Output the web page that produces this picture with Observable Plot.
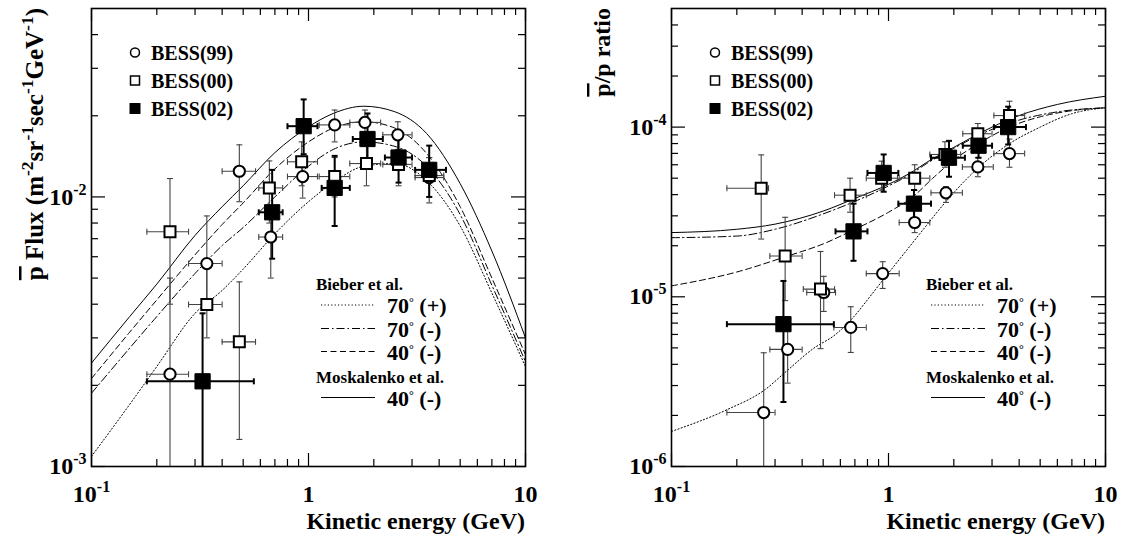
<!DOCTYPE html>
<html><head><meta charset="utf-8">
<script src="https://cdn.jsdelivr.net/npm/d3@7"></script>
<script src="https://cdn.jsdelivr.net/npm/@observablehq/plot@0.6"></script>
<style>
body{margin:0;background:#fff;}
#wrap{position:relative;width:1125px;height:535px;overflow:hidden;background:#fff;}
#left{position:absolute;left:0;top:0;}
#right{position:absolute;left:560px;top:0;}
</style></head><body><div id="wrap"><div id="left"></div><div id="right"></div></div>
<script>
// ---------- tick values ----------
const X_MAJOR = [0.1, 1, 10];
const X_MINOR = [0.2,0.3,0.4,0.5,0.6,0.7,0.8,0.9,2,3,4,5,6,7,8,9];
const FLUX_Y_MAJOR = [1e-3, 1e-2];
const FLUX_Y_MINOR = [2e-3,3e-3,4e-3,5e-3,6e-3,7e-3,8e-3,9e-3,2e-2,3e-2,4e-2];
const RATIO_Y_MAJOR = [1e-6, 1e-5, 1e-4];
const RATIO_Y_MINOR = [2e-6,3e-6,4e-6,5e-6,6e-6,7e-6,8e-6,9e-6,2e-5,3e-5,4e-5,5e-5,6e-5,7e-5,8e-5,9e-5,2e-4,3e-4,4e-4];

// ---------- data rows: [E, value, low, high, Elow, Ehigh] ----------
const flux99 = [
 [0.23, 2.2e-3, 5e-4, 5.0e-3, 0.18, 0.28],
 [0.34, 5.66e-3, 3.9e-3, 8.5e-3, 0.28, 0.40],
 [0.48, 1.245e-2, 9.6e-3, 1.56e-2, 0.40, 0.57],
 [0.67, 7.1e-3, 5.0e-3, 9.0e-3, 0.59, 0.76],
 [0.94, 1.19e-2, 9.9e-3, 1.4e-2, 0.80, 1.10],
 [1.32, 1.85e-2, 1.6e-2, 2.1e-2, 1.12, 1.55],
 [1.82, 1.89e-2, 1.65e-2, 2.1e-2, 1.55, 2.15],
 [2.58, 1.70e-2, 1.5e-2, 1.9e-2, 2.2, 3.0],
 [3.6, 1.18e-2, 9.5e-3, 1.4e-2, 3.1, 4.2]
];
const flux00 = [
 [0.23, 7.43e-3, 4.0e-3, 1.17e-2, 0.18, 0.28],
 [0.34, 3.99e-3, 3.0e-3, 5.5e-3, 0.28, 0.40],
 [0.48, 2.9e-3, 1.26e-3, 4.84e-3, 0.40, 0.57],
 [0.66, 1.08e-2, 8.0e-3, 1.36e-2, 0.59, 0.76],
 [0.93, 1.35e-2, 1.1e-2, 1.6e-2, 0.80, 1.10],
 [1.32, 1.19e-2, 1.0e-2, 1.4e-2, 1.12, 1.55],
 [1.85, 1.33e-2, 1.1e-2, 1.6e-2, 1.55, 2.15],
 [2.6, 1.32e-2, 1.1e-2, 1.5e-2, 2.2, 3.0],
 [3.6, 1.2e-2, 1.0e-2, 1.4e-2, 3.1, 4.2]
];
const flux02 = [
 [0.325, 2.07e-3, 5e-4, 3.7e-3, 0.18, 0.56],
 [0.68, 8.77e-3, 5.9e-3, 1.26e-2, 0.59, 0.76],
 [0.95, 1.83e-2, 1.44e-2, 2.3e-2, 0.80, 1.10],
 [1.32, 1.08e-2, 7.8e-3, 1.42e-2, 1.15, 1.55],
 [1.87, 1.64e-2, 1.35e-2, 2.04e-2, 1.6, 2.2],
 [2.6, 1.40e-2, 1.13e-2, 1.7e-2, 2.25, 3.0],
 [3.6, 1.26e-2, 1.0e-2, 1.55e-2, 3.1, 4.3]
];
const ratio99 = [
 [0.266, 2.08e-6, 5e-7, 4.68e-6, 0.18, 0.30],
 [0.343, 4.9e-6, 3.1e-6, 7.3e-6, 0.284, 0.40],
 [0.503, 1.06e-5, 8.2e-6, 1.32e-5, 0.42, 0.57],
 [0.67, 6.6e-6, 4.7e-6, 8.74e-6, 0.56, 0.79],
 [0.94, 1.37e-5, 1.12e-5, 1.61e-5, 0.79, 1.12],
 [1.32, 2.74e-5, 2.39e-5, 3.27e-5, 1.12, 1.55],
 [1.84, 4.1e-5, 3.6e-5, 4.46e-5, 1.57, 2.19],
 [2.58, 5.83e-5, 5.1e-5, 6.6e-5, 2.19, 3.04],
 [3.61, 6.98e-5, 5.8e-5, 8.5e-5, 3.06, 4.24]
];
const ratio00 = [
 [0.259, 4.36e-5, 2.19e-5, 6.86e-5, 0.18, 0.28],
 [0.334, 1.74e-5, 9.5e-6, 2.94e-5, 0.284, 0.40],
 [0.486, 1.11e-5, 4.95e-6, 1.85e-5, 0.405, 0.564],
 [0.665, 3.97e-5, 3.15e-5, 5.0e-5, 0.564, 0.79],
 [0.93, 5.0e-5, 4.25e-5, 6.3e-5, 0.79, 1.10],
 [1.32, 5.0e-5, 4.25e-5, 6.0e-5, 1.12, 1.55],
 [1.82, 6.9e-5, 5.8e-5, 8.2e-5, 1.55, 2.15],
 [2.58, 9.14e-5, 7.9e-5, 1.05e-4, 2.2, 3.0],
 [3.61, 1.17e-4, 9.6e-5, 1.42e-4, 3.06, 4.24]
];
const ratio02 = [
 [0.328, 6.9e-6, 2.4e-6, 1.24e-5, 0.18, 0.56],
 [0.69, 2.43e-5, 1.63e-5, 3.54e-5, 0.57, 0.80],
 [0.95, 5.37e-5, 4.16e-5, 6.9e-5, 0.80, 1.11],
 [1.31, 3.54e-5, 2.87e-5, 4.26e-5, 1.11, 1.57],
 [1.9, 6.6e-5, 5.1e-5, 8.3e-5, 1.57, 2.25],
 [2.6, 7.77e-5, 6.6e-5, 9.35e-5, 2.2, 3.0],
 [3.56, 1.0e-4, 7.9e-5, 1.32e-4, 3.06, 4.3]
];

// ---------- model curves: [E, value] ----------
const fluxMosk40m = [[0.1,2.42e-3],[0.15,3.6e-3],[0.2,4.75e-3],[0.3,7.2e-3],[0.4,9.2e-3],[0.5,1.1e-2],[0.7,1.46e-2],[1.0,1.82e-2],[1.3,2.04e-2],[1.8,2.17e-2],[2.5,2.07e-2],[3.5,1.72e-2],[5,1.12e-2],[7,6.3e-3],[10,3.0e-3]];
const fluxBieber40m = [[0.1,2.12e-3],[0.15,3.15e-3],[0.2,4.15e-3],[0.3,6.1e-3],[0.4,7.9e-3],[0.5,9.5e-3],[0.7,1.27e-2],[1.0,1.6e-2],[1.3,1.8e-2],[1.8,1.9e-2],[2.5,1.8e-2],[3.5,1.45e-2],[5,9.2e-3],[7,5.0e-3],[10,2.6e-3]];
const fluxBieber70m = [[0.1,1.87e-3],[0.15,2.75e-3],[0.2,3.6e-3],[0.3,5.2e-3],[0.4,6.6e-3],[0.5,7.7e-3],[0.7,1.0e-2],[1.0,1.3e-2],[1.3,1.5e-2],[1.8,1.6e-2],[2.5,1.54e-2],[3.5,1.3e-2],[5,8.6e-3],[7,4.7e-3],[10,2.45e-3]];
const fluxBieber70p = [[0.1,1.09e-3],[0.15,1.7e-3],[0.2,2.35e-3],[0.3,3.7e-3],[0.4,4.5e-3],[0.5,5.4e-3],[0.7,7.3e-3],[1.0,9.6e-3],[1.3,1.13e-2],[1.8,1.3e-2],[2.5,1.33e-2],[3.5,1.15e-2],[5,7.8e-3],[7,4.4e-3],[10,2.35e-3]];

const ratioMosk40m = [[0.1,2.39e-5],[0.2,2.5e-5],[0.3,2.68e-5],[0.5,3.2e-5],[0.7,3.8e-5],[1.0,4.6e-5],[1.3,5.5e-5],[1.5,6.2e-5],[2,7.6e-5],[3,1.0e-4],[4,1.17e-4],[6,1.36e-4],[10,1.52e-4]];
const ratioBieber70m = [[0.1,2.23e-5],[0.2,2.28e-5],[0.3,2.5e-5],[0.5,3.08e-5],[0.7,3.65e-5],[1.0,4.5e-5],[1.3,5.4e-5],[1.5,6.1e-5],[2,7.5e-5],[3,9.7e-5],[4,1.1e-4],[6,1.23e-4],[10,1.3e-4]];
const ratioBieber40m = [[0.1,1.16e-5],[0.2,1.4e-5],[0.334,1.72e-5],[0.5,2.05e-5],[0.7,2.5e-5],[1.0,3.15e-5],[1.3,3.9e-5],[1.6,5.0e-5],[2,6.4e-5],[2.6,8.0e-5],[3.6,1.0e-4],[5,1.15e-4],[7,1.25e-4],[10,1.3e-4]];
const ratioBieber70p = [[0.1,1.61e-6],[0.18,2.16e-6],[0.27,2.84e-6],[0.34,3.66e-6],[0.45,4.95e-6],[0.57,6.0e-6],[0.69,7.6e-6],[0.8,9.6e-6],[0.94,1.25e-5],[1.18,1.8e-5],[1.43,2.45e-5],[1.86,3.7e-5],[2.53,5.6e-5],[3.56,7.9e-5],[5,1.0e-4],[7,1.2e-4],[10,1.3e-4]];

const SERIES_NAMES = ["BESS(99)", "BESS(00)", "BESS(02)"];
const MODEL_GROUPS = ["Bieber et al.", "Moskalenko et al."];
const MODEL_NAMES = ["70", "(+)", "70", "(-)", "40", "(-)", "40", "(-)"];

// ---------- styles ----------
const FONT = "'Liberation Serif','Times New Roman',serif";
const DASH = {dot: "1.2,2.2", dashdot: "8,3,1.5,3", dash: "6,3.5", solid: null};
const hCap = {draw(ctx, size){const r=Math.sqrt(size/Math.PI); ctx.moveTo(-r,0); ctx.lineTo(r,0);}};
const vCap = {draw(ctx, size){const r=Math.sqrt(size/Math.PI); ctx.moveTo(0,-r); ctx.lineTo(0,r);}};

function fmt(d){
  if (Math.abs(d-1) < 1e-9) return "1";
  if (Math.abs(d-10) < 1e-9) return "10";
  return "10^" + Math.round(Math.log10(d));
}

function rich(parent, x, y, parts, size, opts={}) {
  const t = parent.append("text").attr("x", x).attr("y", y)
    .attr("font-size", size).attr("font-family", FONT).attr("font-weight", "bold")
    .attr("fill", "black").attr("text-anchor", opts.anchor || "start");
  if (opts.transform) t.attr("transform", opts.transform);
  let shift = 0;
  for (const p of parts) {
    const ts = t.append("tspan").text(p.t);
    if (p.sup) {
      const s = p.shift || size*0.42;
      ts.attr("dy", -s).attr("font-size", p.size || size*0.7);
      shift = s;
    } else if (shift) {
      ts.attr("dy", shift); shift = 0;
    }
    if (p.over) ts.attr("text-decoration", "overline");
  }
  return t;
}

function makePanel(cfg) {
  const W = cfg.width, H = 535, mL = cfg.mL, mR = cfg.mR, mT = 8, mB = 69;
  const fw = W - mL - mR, fh = H - mT - mB;
  const marks = [];
  for (const c of cfg.curves) {
    marks.push(Plot.line(c.data, {x: d => d[0], y: d => d[1], curve: "monotone-x", stroke: "black",
      strokeWidth: 1, strokeDasharray: c.dash, clip: true}));
  }
  for (const s of cfg.sets) {
    const st = {stroke: s.barColor, strokeWidth: s.barWidth, clip: true};
    marks.push(Plot.ruleX(s.data, {x: d => d[0], y1: d => d[2], y2: d => d[3], ...st}));
    marks.push(Plot.ruleY(s.data, {y: d => d[1], x1: d => d[4], x2: d => d[5], ...st}));
    marks.push(Plot.dot(s.data, {x: d => d[0], y: d => d[2], symbol: hCap, r: 3, fill: "none", ...st}));
    marks.push(Plot.dot(s.data, {x: d => d[0], y: d => d[3], symbol: hCap, r: 3, fill: "none", ...st}));
    marks.push(Plot.dot(s.data, {x: d => d[4], y: d => d[1], symbol: vCap, r: 3, fill: "none", ...st}));
    marks.push(Plot.dot(s.data, {x: d => d[5], y: d => d[1], symbol: vCap, r: 3, fill: "none", ...st}));
  }
  for (const s of cfg.sets) {
    marks.push(Plot.dot(s.data, {x: d => d[0], y: d => d[1], symbol: s.symbol, r: s.r,
      fill: s.fill, stroke: "black", strokeWidth: s.sw}));
  }
  const tk = {stroke: "black", strokeWidth: 1.2};
  marks.push(Plot.tickY(cfg.yMajor, {y: d => d, insetRight: fw - 14, ...tk}));
  marks.push(Plot.tickY(cfg.yMajor, {y: d => d, insetLeft: fw - 14, ...tk}));
  marks.push(Plot.tickY(cfg.yMinor, {y: d => d, insetRight: fw - 7, ...tk}));
  marks.push(Plot.tickY(cfg.yMinor, {y: d => d, insetLeft: fw - 7, ...tk}));
  marks.push(Plot.tickX(X_MAJOR, {x: d => d, insetTop: fh - 13, ...tk}));
  marks.push(Plot.tickX(X_MAJOR, {x: d => d, insetBottom: fh - 13, ...tk}));
  marks.push(Plot.tickX(X_MINOR, {x: d => d, insetTop: fh - 7, ...tk}));
  marks.push(Plot.tickX(X_MINOR, {x: d => d, insetBottom: fh - 7, ...tk}));
  marks.push(Plot.axisX(X_MAJOR, {anchor: "bottom", tickSize: 0, tickPadding: 18, tickFormat: fmt, label: null, fontSize: 24}));
  marks.push(Plot.axisY(cfg.yMajor, {anchor: "left", tickSize: 0, tickPadding: 5, tickFormat: fmt, label: null, fontSize: 24}));
  marks.push(Plot.frame({stroke: "black", strokeWidth: 1.6}));

  const svg = Plot.plot({
    width: W, height: H, marginLeft: mL, marginRight: mR, marginTop: mT, marginBottom: mB,
    x: {type: "log", domain: [0.1, 10]},
    y: {type: "log", domain: cfg.yDomain},
    style: {fontFamily: FONT, fontWeight: "bold", background: "white", color: "black", overflow: "visible"},
    marks
  });

  svg.querySelectorAll("text").forEach(t => {
    const m = t.textContent.match(/^10\^(-?\d+)$/);
    if (m) {
      t.textContent = "";
      const ns = "http://www.w3.org/2000/svg";
      const a = document.createElementNS(ns, "tspan"); a.textContent = "10"; t.appendChild(a);
      const b = document.createElementNS(ns, "tspan"); b.textContent = m[1];
      b.setAttribute("dy", "-10"); b.setAttribute("font-size", "16"); t.appendChild(b);
    }
  });

  const g = d3.select(svg).append("g");
  rich(g, mL + fw, 529, [{t: "Kinetic energy (GeV)"}], 24, {anchor: "end"});
  rich(g, 0, 0, cfg.yTitle, cfg.yTitleSize, {anchor: "end", transform: `translate(${cfg.yTitleX},8) rotate(-90)`});

  const lx = mL + 44, rows = [52.5, 80.5, 108.5];
  g.append("circle").attr("cx", lx).attr("cy", rows[0]).attr("r", 4.5).attr("fill", "white").attr("stroke", "black").attr("stroke-width", 1.5);
  g.append("rect").attr("x", lx - 4.5).attr("y", rows[1] - 4.5).attr("width", 9).attr("height", 9).attr("fill", "white").attr("stroke", "black").attr("stroke-width", 1.5);
  g.append("rect").attr("x", lx - 5.5).attr("y", rows[2] - 5.5).attr("width", 11).attr("height", 11).attr("fill", "black");
  SERIES_NAMES.forEach((n, i) => rich(g, lx + 16, rows[i] + 7, [{t: n}], 20));

  const bx = cfg.modelX;
  rich(g, bx, 289.5, [{t: MODEL_GROUPS[0]}], 17);
  rich(g, bx, 383, [{t: MODEL_GROUPS[1]}], 17);
  const lineYs = [305, 328.5, 351.5, 397.5];
  const dashes = [DASH.dot, DASH.dashdot, DASH.dash, DASH.solid];
  lineYs.forEach((y, i) => {
    const l = g.append("line").attr("x1", bx + 5).attr("x2", bx + 59).attr("y1", y).attr("y2", y)
      .attr("stroke", "black").attr("stroke-width", 1);
    if (dashes[i]) l.attr("stroke-dasharray", dashes[i]);
    rich(g, bx + 71, y + 8, [{t: MODEL_NAMES[2*i]}, {t: "°", sup: true, size: 12, shift: 7}, {t: " " + MODEL_NAMES[2*i+1]}], 22);
  });
  return svg;
}

const fluxTitle = [{t: "p", over: true}, {t: " Flux (m"}, {t: "-2", sup: true}, {t: "sr"}, {t: "-1", sup: true},
  {t: "sec"}, {t: "-1", sup: true}, {t: "GeV"}, {t: "-1", sup: true}, {t: ")"}];
const ratioTitle = [{t: "p", over: true}, {t: "/p ratio"}];

const setsStyle = (d99, d00, d02) => [
  {data: d99, symbol: "circle", r: 5.6, fill: "white", sw: 2, barColor: "#444", barWidth: 1.1},
  {data: d00, symbol: "square", r: 6.2, fill: "white", sw: 2, barColor: "#444", barWidth: 1.1},
  {data: d02, symbol: "square", r: 8.6, fill: "black", sw: 1, barColor: "black", barWidth: 2}
];

document.getElementById("left").appendChild(makePanel({
  width: 560, mL: 91, mR: 35, yDomain: [1e-3, 5e-2], yMajor: FLUX_Y_MAJOR, yMinor: FLUX_Y_MINOR,
  curves: [
    {data: fluxBieber70p, dash: DASH.dot},
    {data: fluxBieber70m, dash: DASH.dashdot},
    {data: fluxBieber40m, dash: DASH.dash},
    {data: fluxMosk40m, dash: DASH.solid}
  ],
  sets: setsStyle(flux99, flux00, flux02),
  yTitle: fluxTitle, yTitleSize: 25, yTitleX: 43, modelX: 316
}));

document.getElementById("right").appendChild(makePanel({
  width: 565, mL: 111, mR: 20, yDomain: [1e-6, 5e-4], yMajor: RATIO_Y_MAJOR, yMinor: RATIO_Y_MINOR,
  curves: [
    {data: ratioBieber70p, dash: DASH.dot},
    {data: ratioBieber70m, dash: DASH.dashdot},
    {data: ratioBieber40m, dash: DASH.dash},
    {data: ratioMosk40m, dash: DASH.solid}
  ],
  sets: setsStyle(ratio99, ratio00, ratio02),
  yTitle: ratioTitle, yTitleSize: 24, yTitleX: 50, modelX: 366
}));
</script>
</body></html>
